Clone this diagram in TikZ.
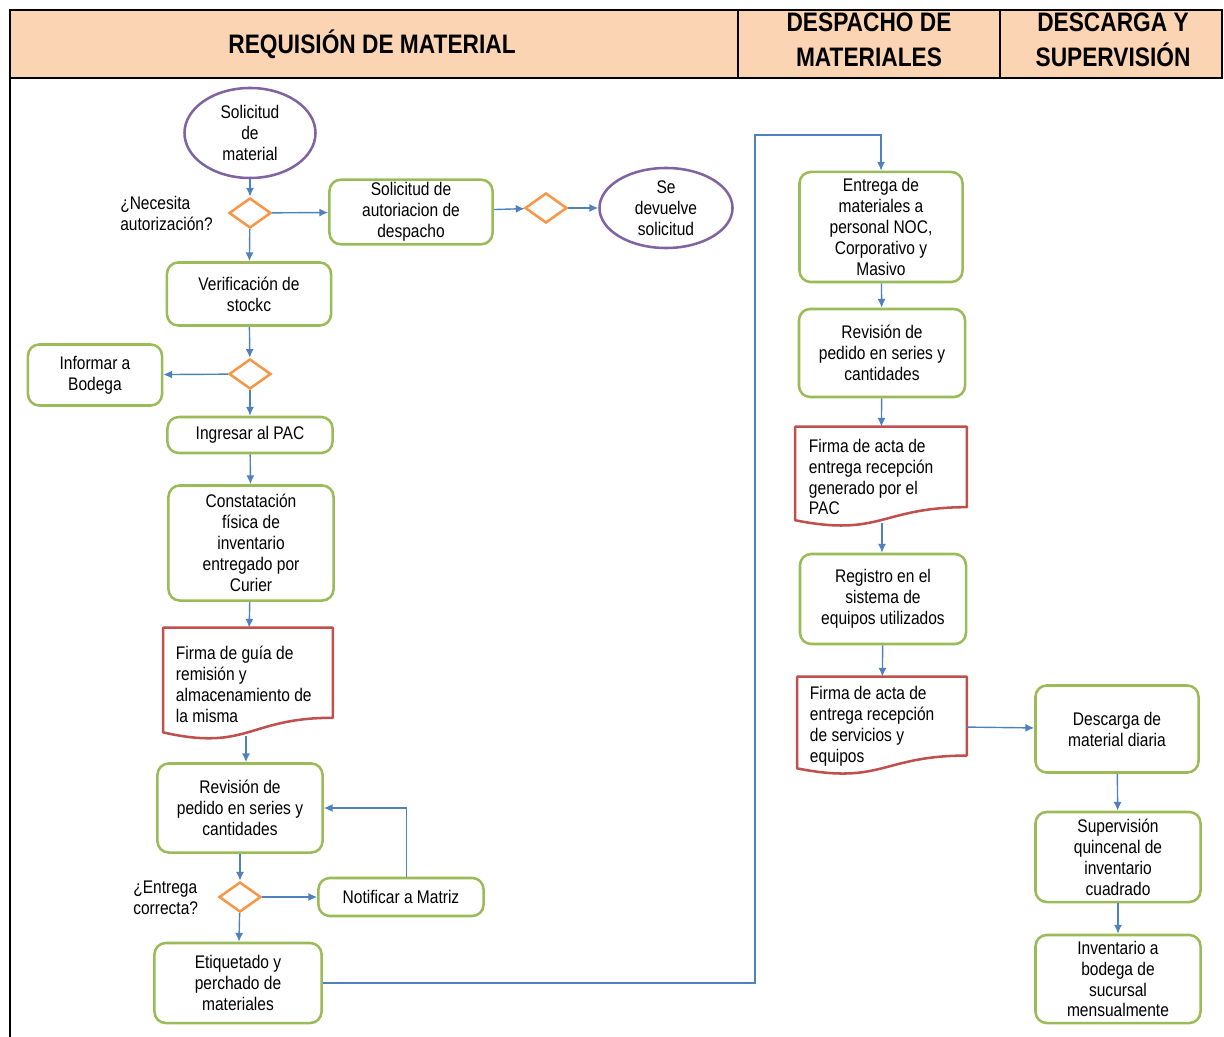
\documentclass[tikz,border=0pt]{standalone}
\usepackage{fontspec}
\setmainfont[FakeStretch=0.85]{Liberation Sans}
\usetikzlibrary{shapes.geometric,arrows.meta,calc}
\definecolor{boxgreen}{RGB}{155,187,89}
\definecolor{docred}{RGB}{192,80,77}
\definecolor{decorange}{RGB}{247,150,70}
\definecolor{ovalpurple}{RGB}{128,100,162}
\definecolor{arrowblue}{RGB}{79,129,189}
\definecolor{headfill}{RGB}{251,212,180}
\tikzset{proc/.style = {draw=boxgreen,line width=1.8pt,rounded corners=8pt,align=center,inner sep=2pt,fill=white}}
\tikzset{doc/.style = {rectangle,align=flush left,inner sep=2pt}}
\tikzset{decide/.style = {diamond,draw=decorange,line width=1.8pt,inner sep=0pt,minimum width=1.05cm,minimum height=0.75cm,fill=white}}
\tikzset{term/.style = {ellipse,draw=ovalpurple,line width=1.8pt,align=center,inner sep=0pt,fill=white}}
% hoja con borde ondulado abajo
\newcommand{\docframe}[1]{%
  \draw [docred,line width=1.8pt,line join=round] (#1.north west) -- (#1.north east)
    -- ($(#1.north east)!0.80!(#1.south east)$)
    .. controls ($(#1.north)!0.80!(#1.south)$) and ($(#1.north)!1.10!(#1.south)$)
    .. ($(#1.north west)!0.93!(#1.south west)$) -- cycle;}

\begin{document}
\begin{tikzpicture}[x=0.025cm,y=-0.025cm,>={Latex[length=2.2mm,width=2mm]}]
			\useasboundingbox (0,0) rectangle (1224,1037);
			% cabecera
			\draw [line width=2pt,fill=headfill] (10,10) rectangle (1222,78);
			\draw [line width=2pt] (738,10) -- (738,78);
			\draw [line width=2pt] (1000,10) -- (1000,78);
			\draw [line width=2pt] (10,78) -- (10,1037);
			\begin{scope}[every node/.style={font=\fontsize{19}{24.8}\selectfont\bfseries,align=center}]
			    \node (h1) at (372,44) {REQUISIÓN DE MATERIAL};
			    \node (h2) at (869,40) {DESPACHO DE\\MATERIALES};
			    \node (h3) at (1113,40) {DESCARGA Y\\SUPERVISIÓN};
			\end{scope}
			\begin{scope}[font=\fontsize{13}{14.9}\selectfont]
			    \node [term,minimum width=3.275cm,minimum height=2.25cm] (s) at (250,133) {Solicitud\\de\\material};
			    \node [decide] (d1) at (250,213) {};
			    \node [align=left,anchor=west,inner sep=0pt] (l1) at (120,213) {¿Necesita\\autorización?};
			    \node [proc,minimum width=4.075cm,minimum height=1.575cm] (a) at (411,212) {Solicitud de\\autoriacion de\\despacho};
			    \node [decide] (d2) at (546,208) {};
			    \node [term,minimum width=3.325cm,minimum height=2cm] (r) at (666,208) {Se\\devuelve\\solicitud};
			    \node [proc,minimum width=4.1cm,minimum height=1.575cm] (v) at (249,294) {Verificación de\\stockc};
			    \node [decide] (d3) at (250,374) {};
			    \node [proc,minimum width=3.35cm,minimum height=1.525cm] (b) at (95,375) {Informar a\\Bodega};
			    \node [proc,minimum width=4.125cm,minimum height=0.9cm] (p) at (250,435) {Ingresar al PAC};
			    \node [proc,minimum width=4.125cm,minimum height=2.875cm] (c) at (251,543) {Constatación\\física de\\inventario\\entregado por\\Curier};
			    \node [doc,minimum width=4.225cm,minimum height=2.8cm,text width=3.6cm] (f1) at (248,684) {Firma de guía de\\remisión y\\almacenamiento de\\la misma};
			    \node [proc,minimum width=4.125cm,minimum height=2.225cm] (q1) at (240,808) {Revisión de\\pedido en series y\\cantidades};
			    \node [decide] (d4) at (240,897) {};
			    \node [align=left,anchor=west,inner sep=0pt] (l2) at (133,898) {¿Entrega\\correcta?};
			    \node [proc,minimum width=4.125cm,minimum height=0.95cm] (n) at (401,897) {Notificar a Matriz};
			    \node [proc,minimum width=4.175cm,minimum height=2cm] (e) at (238,983) {Etiquetado y\\perchado de\\materiales};
			    \node [proc,minimum width=4.075cm,minimum height=2.75cm] (m) at (881,227) {Entrega de\\materiales a\\personal NOC,\\Corporativo y\\Masivo};
			    \node [proc,minimum width=4.15cm,minimum height=2.2cm] (q2) at (882,353) {Revisión de\\pedido en series y\\cantidades};
			    \node [doc,minimum width=4.275cm,minimum height=2.5cm,text width=3.6cm] (f2) at (881,477) {Firma de acta de\\entrega recepción\\generado por el\\PAC};
			    \node [proc,minimum width=4.15cm,minimum height=2.25cm] (g) at (883,599) {Registro en el\\sistema de\\equipos utilizados};
			    \node [doc,minimum width=4.225cm,minimum height=2.45cm,text width=3.6cm] (f3) at (882,726) {Firma de acta de\\entrega recepción\\de servicios y\\equipos};
			    \node [proc,minimum width=4.075cm,minimum height=2.175cm] (x) at (1117,729) {Descarga de\\material diaria};
			    \node [proc,minimum width=4.125cm,minimum height=2.25cm] (u) at (1118,857) {Supervisión\\quincenal de\\inventario\\cuadrado};
			    \node [proc,minimum width=4.125cm,minimum height=2.2cm] (i) at (1118,979) {Inventario a\\bodega de\\sucursal\\mensualmente};
			\end{scope}
			\docframe{f1}
			\docframe{f2}
			\docframe{f3}
			\coordinate (k) at (755,135);
			\coordinate (f1b) at ($(f1.north)!0.96!(f1.south)+(-2,0)$);
			\coordinate (f2b) at ($(f2.north)!0.96!(f2.south)+(1,0)$);
			\begin{scope}[every edge/.style={draw=arrowblue,line width=1pt}]
			    \path [->] (s) edge (d1);
			    \path [->] (d1) edge (a);
			    \path [->] (d1) edge (v);
			    \path [->] (a) edge (d2);
			    \path [->] (d2) edge (r);
			    \path [->] (v) edge (d3);
			    \path [->] (d3) edge (b);
			    \path [->] (d3) edge (p);
			    \path [->] (p) edge (c);
			    \path [->] (c) edge (f1);
			    \path [->] (f1b) edge (f1b |- q1.north);
			    \path [->] (q1) edge (d4);
			    \path [->] (d4) edge (n);
			    \path [->] (d4) edge (e);
			    \path [->] (m) edge (q2);
			    \path [->] (q2) edge (f2);
			    \path [->] (f2b) edge (f2b |- g.north);
			    \path [->] (g) edge (f3);
			    \path [->] (f3) edge (x);
			    \path [->] (x) edge (u);
			    \path [->] (u) edge (i);
			\end{scope}
			\draw [->,draw=arrowblue,line width=1pt] ([xshift=4pt]n.north) |- (q1.east);
			\draw [->,draw=arrowblue,line width=1pt] (e.east) -| (k) -| (m.north);
		\end{tikzpicture}
\end{document}
